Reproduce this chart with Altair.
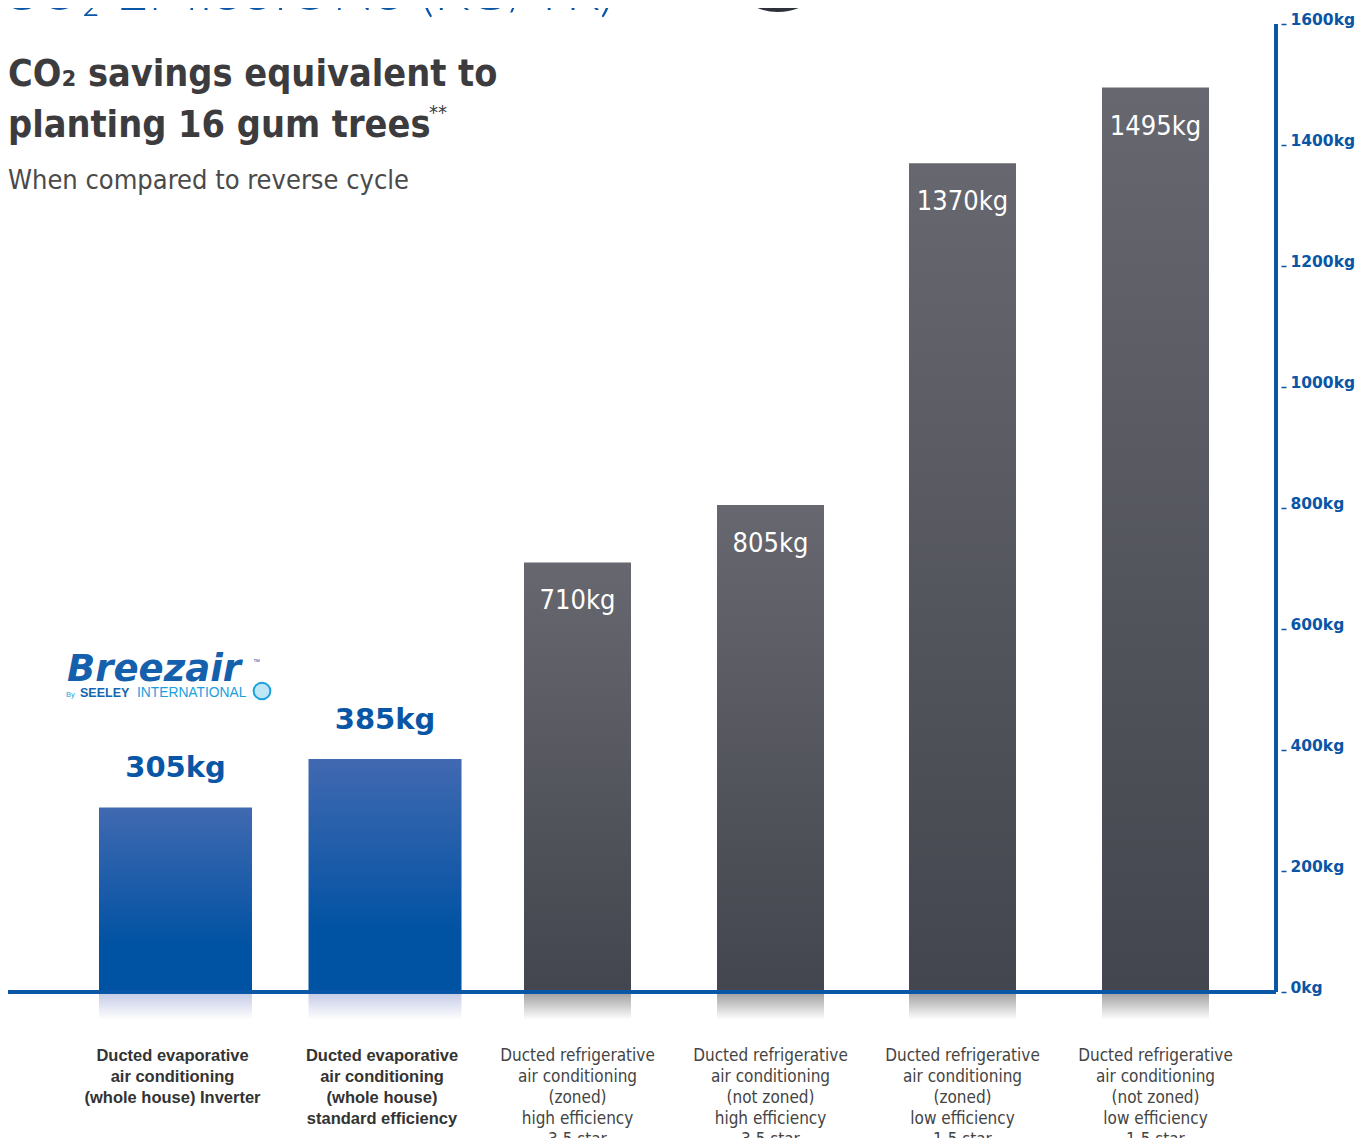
import altair as alt
import pandas as pd

# ---------------- data ----------------
categories = [
    "Ducted evaporative\nair conditioning\n(whole house) Inverter",
    "Ducted evaporative\nair conditioning\n(whole house)\nstandard efficiency",
    "Ducted refrigerative\nair conditioning\n(zoned)\nhigh efficiency\n3.5 star",
    "Ducted refrigerative\nair conditioning\n(not zoned)\nhigh efficiency\n3.5 star",
    "Ducted refrigerative\nair conditioning\n(zoned)\nlow efficiency\n1.5 star",
    "Ducted refrigerative\nair conditioning\n(not zoned)\nlow efficiency\n1.5 star",
]
values = [305, 385, 710, 805, 1370, 1495]
value_labels = ["305kg", "385kg", "710kg", "805kg", "1370kg", "1495kg"]
groups = ["evap", "evap", "refrig", "refrig", "refrig", "refrig"]
tick_values = [0, 200, 400, 600, 800, 1000, 1200, 1400, 1600]

top_title = "CO\u2082 EMISSIONS (KG/YR)"
title_line1 = "CO\u2082 savings equivalent to"
title_line2 = "planting 16 gum trees"
title_mark = "**"
subtitle = "When compared to reverse cycle"
logo_main = "Breezair"
logo_tm = "\u2122"
logo_by = "By"
logo_seeley = "SEELEY"
logo_intl = "INTERNATIONAL"

df = pd.DataFrame({
    "idx": list(range(len(values))),
    "category": categories,
    "value": values,
    "label": value_labels,
    "group": groups,
})

BLUE = "#0a56a6"
CYAN = "#1aa0dc"
CONDENSED = "DejaVu Sans Condensed"

W, H = 1268, 1130

xscale = alt.Scale(domain=[0, 1, 2, 3, 4, 5],
                   range=[167.5, 377, 569.5, 762.5, 954.5, 1147.5], padding=0)
yscale = alt.Scale(domain=[0, 1600], range=[984, 16])
yaxis = alt.Axis(values=tick_values, labelExpr="datum.value + 'kg'", orient="right",
                 title=None, domain=False, grid=False, offset=5, tickSize=5,
                 tickColor=BLUE, tickWidth=1.5, labelPadding=4,
                 labelFont="DejaVu Sans", labelFontWeight="bold", labelFontSize=15.5,
                 labelColor=BLUE, labelBaseline="alphabetic", labelAlign="left")

X = alt.X("idx:Q", scale=xscale, axis=None)

def grad(c1, c2, mid=None):
    stops = [alt.GradientStop(color=c1, offset=0)]
    if mid is not None:
        stops.append(alt.GradientStop(color=c2, offset=mid))
    stops.append(alt.GradientStop(color=c2, offset=1))
    return alt.Gradient(gradient="linear", stops=stops, x1=0, x2=0, y1=0, y2=1)

base = alt.Chart(df)
evap = base.transform_filter(alt.datum.group == "evap")
refr = base.transform_filter(alt.datum.group == "refrig")

refl_evap = evap.mark_bar(width=153, color=grad("#c3c9e6", "#ffffff")).encode(
    x=X, y=alt.Y(datum=0, scale=yscale, axis=yaxis), y2=alt.datum(-46))
refl_refr = refr.mark_bar(width=107, color=grad("#9d9d9f", "#ffffff")).encode(
    x=X, y=alt.Y(datum=0, scale=yscale, axis=yaxis), y2=alt.datum(-46))

bars_evap = evap.mark_bar(width=153, color=grad("#4169b1", "#0052a3", 0.75)).encode(
    x=X, y=alt.Y("value:Q", scale=yscale, axis=yaxis), y2=alt.datum(0))
bars_refr = refr.mark_bar(width=107, color=grad("#67676f", "#43464e")).encode(
    x=X, y=alt.Y("value:Q", scale=yscale, axis=yaxis), y2=alt.datum(0))

baseline = alt.Chart(df).mark_rule(color=BLUE, strokeWidth=3).encode(
    x=alt.value(0), x2=alt.value(W), y=alt.Y(datum=0, scale=yscale, axis=yaxis))
axisline = alt.Chart(df).mark_rule(color=BLUE, strokeWidth=3).encode(
    x=alt.value(W), y=alt.Y(datum=0, scale=yscale, axis=yaxis), y2=alt.datum(1600))

lab_evap = evap.mark_text(font="DejaVu Sans", fontWeight="bold", fontSize=29,
                          color=BLUE, baseline="alphabetic", dy=-30).encode(
    x=X, y=alt.Y("value:Q", scale=yscale, axis=yaxis), text="label:N")
lab_refr = refr.mark_text(font=CONDENSED, fontSize=27, color="#ffffff",
                          baseline="alphabetic", dy=47).encode(
    x=X, y=alt.Y("value:Q", scale=yscale, axis=yaxis), text="label:N")

cat_evap = evap.mark_text(font="Liberation Sans", fontWeight="bold", fontSize=16.5,
                          color="#333333", baseline="top", lineBreak="\n",
                          lineHeight=21, dx=-3).encode(
    x=X, y=alt.value(1040), text="category:N")
cat_refr = refr.mark_text(font=CONDENSED, fontSize=17, color="#444444",
                          baseline="top", lineBreak="\n", lineHeight=21).encode(
    x=X, y=alt.value(1040), text="category:N")

def label(txt, x, y, **kw):
    return alt.Chart(pd.DataFrame({"t": [txt]})).mark_text(
        align="left", baseline="alphabetic", **kw).encode(
        x=alt.value(x), y=alt.value(y), text="t:N")

texts = [
    label(top_title, -8, 2, font="Lato", fontWeight=300, fontSize=56, color=BLUE),
    label(title_line1, 0, 78, font=CONDENSED, fontWeight="bold", fontSize=37.5, color="#3c3c3e"),
    label(title_line2, 0, 129, font=CONDENSED, fontWeight="bold", fontSize=37.5, color="#3c3c3e"),
    label(title_mark, 421, 111, font=CONDENSED, fontSize=20, color="#3c3c3e"),
    label(subtitle, 0, 181, font=CONDENSED, fontSize=27, color="#4a4a4a"),
    label(logo_main, 59, 673, font="DejaVu Sans", fontWeight="bold", fontStyle="italic",
          fontSize=37, color="#1560ad"),
    label(logo_tm, 245, 656, font="Liberation Sans", fontSize=7, color="#1560ad"),
    label(logo_by, 58, 689, font="Liberation Sans", fontSize=7.5, color=CYAN),
    label(logo_seeley, 72, 689, font="Liberation Sans", fontWeight="bold", fontSize=12.5, color="#1565b0"),
    label(logo_intl, 129, 689, font="Liberation Sans", fontSize=13.8, color=CYAN),
]

globe = alt.Chart(pd.DataFrame({"t": [0]})).mark_point(
    shape="circle", filled=True, fill="#bfe6f6", stroke=CYAN, strokeWidth=2,
    size=280, opacity=1).encode(
    x=alt.value(254), y=alt.value(683))

circle = alt.Chart(pd.DataFrame({"t": [0]})).mark_point(
    shape="circle", filled=True, color="#2c313a", size=12100, opacity=1).encode(
    x=alt.value(770), y=alt.value(-51))

chart = alt.layer(
    circle, refl_evap, refl_refr, bars_evap, bars_refr, baseline, axisline,
    lab_evap, lab_refr, cat_evap, cat_refr, globe, *texts
).properties(
    width=W, height=H,
    background="#ffffff",
    autosize=alt.AutoSizeParams(type="none"),
    padding={"left": 0, "top": 0, "right": 87, "bottom": 0},
).configure_view(stroke=None)

chart.save("out.html", embed_options={"renderer": "svg", "actions": False})
